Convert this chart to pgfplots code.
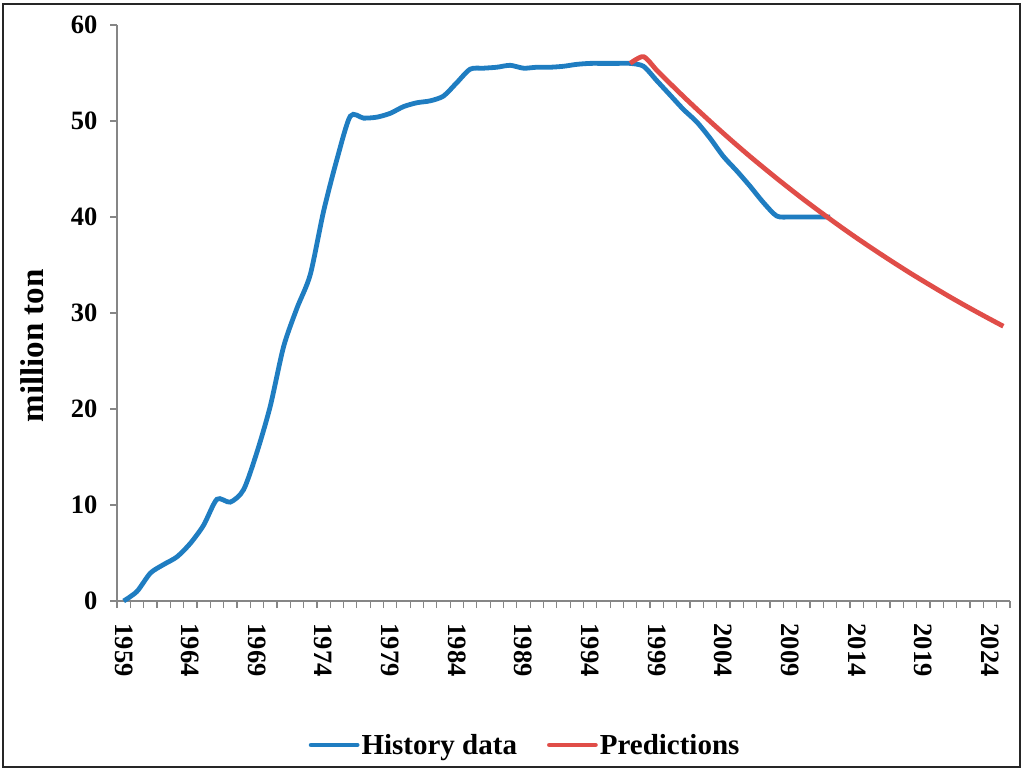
\documentclass[border=0pt]{standalone}
\usepackage{fontspec}
\setmainfont{Liberation Serif}
\usepackage{pgfplots}
\pgfplotsset{compat=1.18}
\definecolor{histblue}{RGB}{31,125,193}
\definecolor{predred}{RGB}{224,77,72}
\definecolor{axgray}{RGB}{134,134,134}
\begin{document}
\begin{tikzpicture}
\begin{axis}[
  scale only axis,
  width=893pt, height=576pt,
  xmin=1958.5, xmax=2025.5,
  ymin=0, ymax=60,
  axis x line*=bottom, axis y line*=left,
  axis line style={draw=axgray, line width=1.3pt, -},
  ytick={0,10,...,60},
  xtick={1958.5,1959.5,...,2025.5},
  xticklabels={},
  extra x ticks={1959,1964,1969,1974,1979,1984,1989,1994,1999,2004,2009,2014,2019,2024},
  extra x tick labels={1959,1964,1969,1974,1979,1984,1989,1994,1999,2004,2009,2014,2019,2024},
  extra x tick style={major tick length=0pt},
  tick align=outside,
  major tick length=7pt,
  tick style={draw=axgray, line width=1.2pt},
  /pgf/number format/assume math mode=true,
  /pgf/number format/1000 sep={},
  tick label style={font=\fontsize{26.5}{30}\selectfont\bfseries},
  xticklabel style={rotate=-90, anchor=west},
  xticklabel shift=19pt,
  yticklabel shift=9pt,
  ylabel={million ton},
  ylabel style={font=\fontsize{33}{36}\selectfont\bfseries,
    at={(axis description cs:-0.095,0.443)}, anchor=center, rotate=0},
  clip=false,
  legend columns=2,
  legend style={draw=none, fill=none, at={(0.457,-0.25)}, anchor=center,
    font=\fontsize{29}{32}\selectfont\bfseries,
    /tikz/every even column/.append style={column sep=28pt}},
  legend image code/.code={\draw[#1, line width=4.8pt, line cap=round] (0pt,0pt) -- (46pt,0pt);},
]
\addplot[histblue, line width=4.8pt, smooth, tension=0.45] coordinates {
(1959,0) (1960,1.0) (1961,2.9) (1962,3.8) (1963,4.6) (1964,6.0) (1965,7.9)
(1966,10.6) (1967,10.3) (1968,11.6) (1969,15.5) (1970,20.3) (1971,26.5)
(1972,30.5) (1973,34.0) (1974,40.6) (1975,46.0) (1976,50.5) (1977,50.3)
(1978,50.4) (1979,50.8) (1980,51.5) (1981,51.9) (1982,52.1) (1983,52.6)
(1984,54.0) (1985,55.4) (1986,55.5) (1987,55.6) (1988,55.8) (1989,55.5)
(1990,55.6) (1991,55.6) (1992,55.7) (1993,55.9) (1994,56.0) (1995,56.0)
(1996,56.0) (1997,56.0) (1998,55.7) (1999,54.2) (2000,52.7) (2001,51.2)
(2002,49.9) (2003,48.2) (2004,46.3) (2005,44.8) (2006,43.2) (2007,41.5)
(2008,40.1) (2009,40.0) (2010,40.0) (2011,40.0) (2012,40.0)
};
\addlegendentry{History data}
\addplot[predred, line width=4.8pt, smooth, tension=0.45] coordinates {
(1997,56.0) (1998,56.7) (1999,55.28) (2000,53.90) (2001,52.55) (2002,51.24)
(2003,49.96) (2004,48.71) (2005,47.49) (2006,46.30) (2007,45.15) (2008,44.02)
(2009,42.92) (2010,41.84) (2011,40.80) (2012,39.78) (2013,38.78) (2014,37.81)
(2015,36.87) (2016,35.95) (2017,35.05) (2018,34.17) (2019,33.32) (2020,32.49)
(2021,31.67) (2022,30.88) (2023,30.11) (2024,29.36) (2025,28.62)
};
\addlegendentry{Predictions}
\coordinate (sw) at (rel axis cs:0,0);
\coordinate (ne) at (rel axis cs:1,1);
\end{axis}
\draw[line width=2pt, black!85] ([xshift=-114pt,yshift=-166pt]sw) rectangle ([xshift=10pt,yshift=21pt]ne);
\path[use as bounding box] ([xshift=-117pt,yshift=-170pt]sw) rectangle ([xshift=14pt,yshift=25pt]ne);
\end{tikzpicture}
\end{document}
